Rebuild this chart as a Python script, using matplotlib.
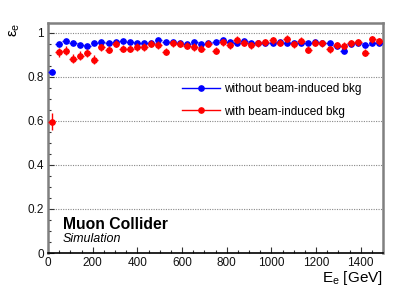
import numpy as np
import matplotlib
matplotlib.use("Agg")
import matplotlib.pyplot as plt
from matplotlib.lines import Line2D
from matplotlib.ticker import MultipleLocator

plt.rcParams['font.family'] = ['Liberation Sans', 'DejaVu Sans']

# 47 bins from 0 to 1500 GeV
n_bins = 47
e_max = 1500.0
bin_w = e_max / n_bins
e_centers = (np.arange(n_bins) + 0.5) * bin_w

eff_nobib = [0.824, 0.948, 0.961, 0.956, 0.947, 0.942, 0.952, 0.958, 0.955, 0.958,
             0.961, 0.958, 0.952, 0.955, 0.953, 0.968, 0.959, 0.959, 0.952, 0.948,
             0.958, 0.950, 0.953, 0.958, 0.968, 0.959, 0.953, 0.961, 0.952, 0.955,
             0.955, 0.956, 0.958, 0.955, 0.952, 0.956, 0.955, 0.958, 0.953, 0.953,
             0.941, 0.918, 0.948, 0.952, 0.947, 0.953, 0.953]
err_nobib = [0.012] + [0.007] * 46

eff_bib = [0.597, 0.912, 0.920, 0.882, 0.897, 0.909, 0.879, 0.935, 0.924, 0.950,
           0.927, 0.927, 0.936, 0.936, 0.950, 0.945, 0.914, 0.953, 0.950, 0.942,
           0.936, 0.927, 0.950, 0.920, 0.958, 0.944, 0.968, 0.955, 0.944, 0.953,
           0.958, 0.967, 0.955, 0.973, 0.948, 0.965, 0.923, 0.956, 0.953, 0.926,
           0.944, 0.942, 0.953, 0.958, 0.909, 0.971, 0.961]
err_bib = [0.038] + [0.02] * 6 + [0.016] * 40

blue = '#0000ff'
red = '#ff0000'

fig = plt.figure(figsize=(3.99, 2.88), dpi=100)
ax = fig.add_axes([48 / 399, 1 - 253 / 288, 335 / 399, 230 / 288])

ax.errorbar(e_centers, eff_nobib, xerr=bin_w / 2, yerr=err_nobib, fmt='o',
            color=blue, ms=3.8, elinewidth=1.0, capsize=0, zorder=3)
ax.errorbar(e_centers, eff_bib, xerr=bin_w / 2, yerr=err_bib, fmt='o',
            color=red, ms=3.8, elinewidth=1.0, capsize=0, zorder=4)

ax.set_xlim(0, e_max)
ax.set_ylim(0, 1.045)

ax.xaxis.set_major_locator(MultipleLocator(200))
ax.xaxis.set_minor_locator(MultipleLocator(50))
ax.yaxis.set_major_locator(MultipleLocator(0.2))
ax.yaxis.set_minor_locator(MultipleLocator(0.05))
ax.set_yticks([0, 0.2, 0.4, 0.6, 0.8, 1.0])
ax.set_yticklabels(['0', '0.2', '0.4', '0.6', '0.8', '1'])
ax.tick_params(which='both', direction='in', top=False, right=False,
               labelsize=8.5, color='#333333', labelcolor='#111111')
ax.tick_params(which='major', length=4.5, width=0.8)
ax.tick_params(which='minor', length=2.3, width=0.8)
ax.tick_params(axis='x', pad=3)
ax.tick_params(axis='y', pad=3)

for yv in [0.2, 0.4, 0.6, 0.8, 1.0]:
    ax.axhline(yv, color='#888888', lw=0.8, ls=(0, (1, 1.2)), zorder=1)

for side in ['top', 'right', 'left']:
    ax.spines[side].set_color('#808080')
    ax.spines[side].set_linewidth(1.8)
ax.spines['bottom'].set_color('black')
ax.spines['bottom'].set_linewidth(1.2)

ax.set_xlabel('E$_{\\mathregular{e}}$ [GeV]', fontsize=11, loc='right', labelpad=0)
ax.set_ylabel('ε$_{\\mathregular{e}}$', fontsize=11, loc='top', labelpad=4)

handles = [Line2D([], [], color=blue, marker='o', ms=3.8, lw=1.0),
           Line2D([], [], color=red, marker='o', ms=3.8, lw=1.0)]
ax.legend(handles, ['without beam-induced bkg', 'with beam-induced bkg'],
          loc='upper left', bbox_to_anchor=(0.4, 0.737), frameon=False,
          fontsize=8.5, handlelength=3.2, handletextpad=0.4,
          labelspacing=0.85, borderpad=0, borderaxespad=0)

ax.text(63 / 399, 1 - 229 / 288, 'Muon Collider', transform=fig.transFigure,
        fontsize=11.3, fontweight='bold', ha='left', va='baseline')
ax.text(63 / 399, 1 - 242 / 288, 'Simulation', transform=fig.transFigure,
        fontsize=9, style='italic', ha='left', va='baseline')

fig.savefig('out.png', dpi=100)
